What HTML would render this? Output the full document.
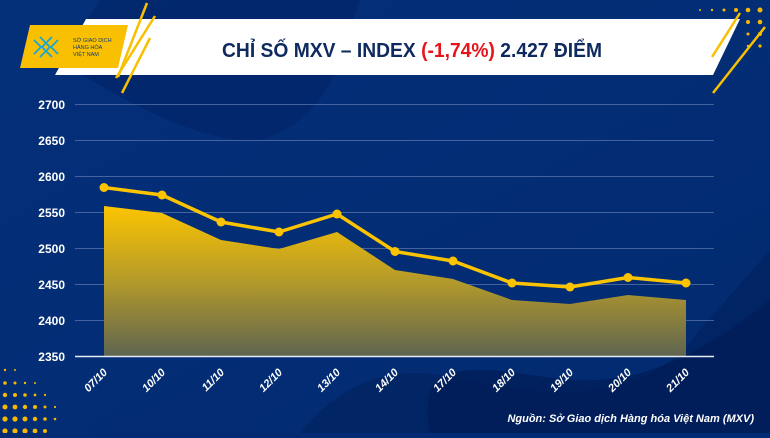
<!DOCTYPE html>
<html><head><meta charset="utf-8"><style>
html,body{margin:0;padding:0}
body{width:770px;height:433px;overflow:hidden;background:#032b74;font-family:"Liberation Sans",sans-serif}
</style></head><body>
<svg width="770" height="433" viewBox="0 0 770 433" xmlns="http://www.w3.org/2000/svg">
<defs>
<linearGradient id="bg" x1="0" y1="0" x2="1" y2="1">
<stop offset="0" stop-color="#04307a"/><stop offset="1" stop-color="#022a70"/></linearGradient>
<linearGradient id="ar" x1="0" y1="0" x2="0" y2="1">
<stop offset="0" stop-color="#fcc400"/><stop offset="0.5" stop-color="#b49a2a"/><stop offset="1" stop-color="#5e6450"/></linearGradient>
</defs>
<rect width="770" height="433" fill="url(#bg)"/>
<path d="M60 60 C150 120 220 145 260 140 C330 120 340 60 360 0 L100 0Z" fill="#022366" opacity="0.6"/>
<path d="M300 433 C360 360 420 370 470 380 C560 400 650 400 700 330 L770 250 L770 433Z" fill="#01225f" opacity="0.7"/>
<path d="M430 433 C420 380 440 370 480 370 C560 370 620 420 770 300 L770 433Z" fill="#021d55" opacity="0.7"/>
<g fill="#f6b800">
<circle cx="700" cy="10" r="1"/><circle cx="712" cy="10" r="1.2"/><circle cx="724" cy="10" r="1.5"/><circle cx="736" cy="10" r="2"/><circle cx="748" cy="10" r="2.3"/><circle cx="760" cy="10" r="2.5"/>
<circle cx="712" cy="22" r="1"/><circle cx="724" cy="22" r="1.3"/><circle cx="736" cy="22" r="1.6"/><circle cx="748" cy="22" r="2"/><circle cx="760" cy="22" r="2.3"/>
<circle cx="748" cy="34" r="1.5"/><circle cx="760" cy="34" r="2"/><circle cx="760" cy="46" r="1.6"/><circle cx="748" cy="46" r="1.2"/>
</g>
<g fill="#f6b800">
<circle cx="5" cy="370" r="1.2"/><circle cx="15" cy="370" r="1"/>
<circle cx="5" cy="383" r="1.8"/><circle cx="15" cy="383" r="1.5"/><circle cx="25" cy="383" r="1.2"/><circle cx="35" cy="383" r="1"/>
<circle cx="5" cy="395" r="2.2"/><circle cx="15" cy="395" r="2"/><circle cx="25" cy="395" r="1.8"/><circle cx="35" cy="395" r="1.4"/><circle cx="45" cy="395" r="1.1"/>
<circle cx="5" cy="407" r="2.5"/><circle cx="15" cy="407" r="2.4"/><circle cx="25" cy="407" r="2.2"/><circle cx="35" cy="407" r="2"/><circle cx="45" cy="407" r="1.5"/><circle cx="55" cy="407" r="1.1"/>
<circle cx="5" cy="419" r="2.6"/><circle cx="15" cy="419" r="2.6"/><circle cx="25" cy="419" r="2.5"/><circle cx="35" cy="419" r="2.2"/><circle cx="45" cy="419" r="1.8"/><circle cx="55" cy="419" r="1.3"/>
<circle cx="5" cy="431" r="2.6"/><circle cx="15" cy="431" r="2.6"/><circle cx="25" cy="431" r="2.6"/><circle cx="35" cy="431" r="2.4"/><circle cx="45" cy="431" r="2"/>
</g>
<!-- banner -->
<polygon points="86,19 740,19 713,75 55,75" fill="#ffffff"/>
<polygon points="30,25 128,25 118,68 20,68" fill="#f8c000"/>
<g stroke="#f8c000" stroke-width="2.5"><line x1="147" y1="3" x2="118" y2="77"/><line x1="155" y1="16" x2="116" y2="78"/><line x1="150" y1="38" x2="122" y2="93"/>
<line x1="740" y1="13" x2="712" y2="57"/><line x1="765" y1="27" x2="713" y2="93"/></g>
<g stroke="#1aa5d8" stroke-width="1.8" fill="none"><path d="M34 40 l7 7 l-7 7 M40 37 l10 10 l-10 10 M52 37 l-10 10 l10 10 M58 40 l-7 7 l7 7"/></g>
<text x="73" y="42" font-size="5.5" fill="#163a7a">SỞ GIAO DỊCH</text>
<text x="73" y="49" font-size="5.5" fill="#163a7a">HÀNG HÓA</text>
<text x="73" y="56" font-size="5.5" fill="#163a7a">VIỆT NAM</text>
<text x="412" y="57" font-size="20" font-weight="bold" fill="#0e2a5e" text-anchor="middle" textLength="380" lengthAdjust="spacingAndGlyphs">CHỈ SỐ MXV – INDEX <tspan fill="#e8141c">(-1,74%)</tspan> 2.427 ĐIỂM</text>
<!-- grid -->
<g stroke="#5f7bb0" stroke-width="1" opacity="0.7">
<line x1="75" y1="104.5" x2="714" y2="104.5"/><line x1="75" y1="140.5" x2="714" y2="140.5"/><line x1="75" y1="176.5" x2="714" y2="176.5"/><line x1="75" y1="212.5" x2="714" y2="212.5"/><line x1="75" y1="248.5" x2="714" y2="248.5"/><line x1="75" y1="284.5" x2="714" y2="284.5"/><line x1="75" y1="320.5" x2="714" y2="320.5"/></g>
<g font-size="12" font-weight="bold" fill="#fff" text-anchor="end">
<text x="65" y="109">2700</text><text x="65" y="145">2650</text><text x="65" y="181">2600</text><text x="65" y="217">2550</text><text x="65" y="253">2500</text><text x="65" y="289">2450</text><text x="65" y="325">2400</text><text x="65" y="361">2350</text></g>
<polygon points="104,206 162,213 221,240 279,249 337,232 395,270 453,279 512,300 570,304 628,295 686,300 686,356 104,356" fill="url(#ar)"/>
<line x1="75" y1="356.5" x2="714" y2="356.5" stroke="#e8ecf4" stroke-width="1.5"/>
<polyline points="104,187.5 162,195 221,222 279,232 337,214 395,251.5 453,261 512,283 570,287 628,277.5 686,283" fill="none" stroke="#fcc400" stroke-width="3.5" stroke-linejoin="round"/>
<g fill="#fcc400"><circle cx="104" cy="187.5" r="4.5"/><circle cx="162" cy="195" r="4.5"/><circle cx="221" cy="222" r="4.5"/><circle cx="279" cy="232" r="4.5"/><circle cx="337" cy="214" r="4.5"/><circle cx="395" cy="251.5" r="4.5"/><circle cx="453" cy="261" r="4.5"/><circle cx="512" cy="283" r="4.5"/><circle cx="570" cy="287" r="4.5"/><circle cx="628" cy="277.5" r="4.5"/><circle cx="686" cy="283" r="4.5"/></g>
<g font-size="11" font-weight="bold" font-style="italic" fill="#fff" text-anchor="end">
<text transform="translate(108,373) rotate(-45)">07/10</text>
<text transform="translate(166,373) rotate(-45)">10/10</text>
<text transform="translate(225,373) rotate(-45)">11/10</text>
<text transform="translate(283,373) rotate(-45)">12/10</text>
<text transform="translate(341,373) rotate(-45)">13/10</text>
<text transform="translate(399,373) rotate(-45)">14/10</text>
<text transform="translate(457,373) rotate(-45)">17/10</text>
<text transform="translate(516,373) rotate(-45)">18/10</text>
<text transform="translate(574,373) rotate(-45)">19/10</text>
<text transform="translate(632,373) rotate(-45)">20/10</text>
<text transform="translate(690,373) rotate(-45)">21/10</text>
</g>
<text x="754" y="422" font-size="11" font-weight="bold" font-style="italic" fill="#fff" text-anchor="end">Nguồn: Sở Giao dịch Hàng hóa Việt Nam (MXV)</text>
</svg>
</body></html>
